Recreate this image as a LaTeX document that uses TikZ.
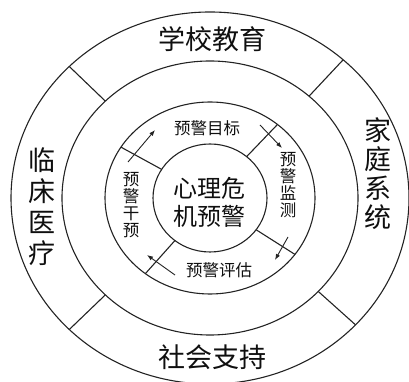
\documentclass[tikz,border=0pt]{standalone}
\usepackage{fontspec}
\setmainfont{Noto Sans CJK SC}
\usepackage{tikz}
\usetikzlibrary{arrows.meta,calc}
\definecolor{wpLine}{RGB}{35,35,35}
\definecolor{wpText}{RGB}{15,15,15}

\tikzset{
  ring/.style={draw=wpLine, line width=1.1pt},
  divider/.style={draw=wpLine, line width=1.1pt},
  flow/.style={draw=wpLine, line width=0.9pt, -{Latex[length=6pt,width=4.5pt]}},
  bigtxt/.style={text=wpText, inner sep=0pt, align=center, font=\fontsize{27}{30}\selectfont},
  coretxt/.style={text=wpText, inner sep=0pt, align=center, font=\fontsize{24}{28}\selectfont},
  smalltxt/.style={text=wpText, inner sep=0pt, align=center, font=\fontsize{16.5}{17}\selectfont}
}

\begin{document}
\begin{tikzpicture}[x=1pt, y=1pt]
  \useasboundingbox (0,0) rectangle (409,382);
  \coordinate (c) at (210,184);

  % Rings
  \draw[ring] (c) ellipse [x radius=199, y radius=186];
  \draw[ring] (c) ellipse [x radius=148, y radius=137];
  \draw[ring] (c) ellipse [x radius=105, y radius=96];
  \draw[ring] (c) ellipse [x radius=57, y radius=54];

  % Outer dividers
  \foreach \a in {135,48,225,317}
    \draw[divider] ($(c)+(\a:148 and 137)$) -- ($(c)+(\a:199 and 186)$);

  % Inner dividers
  \foreach \a in {148,50,232,324}
    \draw[divider] ($(c)+(\a:57 and 54)$) -- ($(c)+(\a:105 and 96)$);

  % Outer ring labels
  \node[bigtxt] (school) at (212,343) {学校教育};
  \node[bigtxt] (society) at (212,25) {社会支持};
  \node[bigtxt, font=\fontsize{27}{31}\selectfont] (clinic) at (42,175) {临\\床\\医\\疗};
  \node[bigtxt, font=\fontsize{27}{29}\selectfont] (family) at (378,208) {家\\庭\\系\\统};

  % Core
  \node[coretxt] (core) at (209,180) {心理危\\机预警};

  % Warning cycle
  \node[smalltxt] (goal) at (207,254) {预警目标};
  \node[smalltxt] (monitor) at (288,197) {预\\警\\监\\测};
  \node[smalltxt] (assess) at (219,112) {预警评估};
  \node[smalltxt] (act) at (131,177) {预\\警\\干\\预};

  % Cycle arrows
  \coordinate (a1s) at (128,220); \coordinate (a1e) at (155,252);
  \coordinate (a2s) at (260,257); \coordinate (a2e) at (282,234);
  \coordinate (a3s) at (288,145); \coordinate (a3e) at (275,122);
  \coordinate (a4s) at (175,107); \coordinate (a4e) at (147,127);
  \draw[flow] (a1s) -- (a1e);
  \draw[flow] (a2s) -- (a2e);
  \draw[flow] (a3s) -- (a3e);
  \draw[flow] (a4s) -- (a4e);
\end{tikzpicture}
\end{document}
